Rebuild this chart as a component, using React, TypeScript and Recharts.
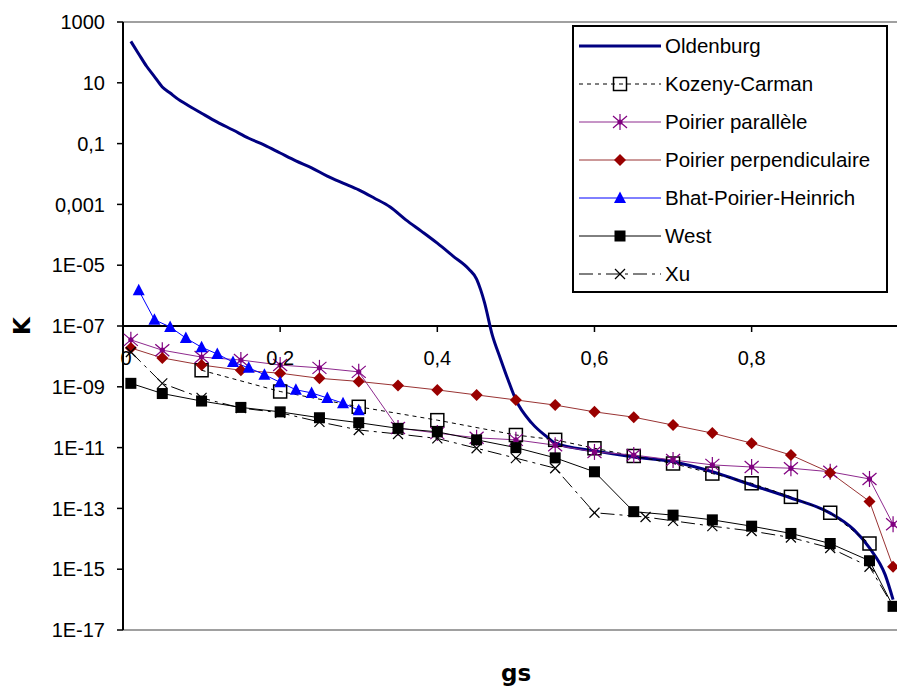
import type { FC } from 'react';
import { LineChart, Line, XAxis, YAxis, ReferenceLine, Legend, Label } from 'recharts';

// permeability K versus solid fraction gs, one array pair per model
const gsOldenburg = [0.01, 0.02, 0.03, 0.04, 0.05, 0.06, 0.07, 0.08, 0.1, 0.12, 0.14, 0.16, 0.18, 0.2, 0.22, 0.24, 0.26, 0.28, 0.3, 0.32, 0.34, 0.36, 0.38, 0.4, 0.42, 0.44, 0.45, 0.455, 0.46, 0.47, 0.48, 0.49, 0.5, 0.52, 0.54, 0.55, 0.6, 0.65, 0.7, 0.75, 0.8, 0.85, 0.9, 0.93, 0.95, 0.97, 0.98];
const kOldenburg = [230, 89, 35, 16, 7.3, 4.6, 2.9, 2.0, 1.0, 0.51, 0.28, 0.15, 0.089, 0.049, 0.027, 0.016, 0.0085, 0.005, 0.003, 0.0016, 8.2e-4, 3.1e-4, 1.3e-4, 5.3e-5, 2e-5, 7.5e-6, 3.5e-6, 1.6e-6, 6e-7, 5e-8, 8.9e-9, 1.7e-9, 3.7e-10, 6.5e-11, 2.2e-11, 1.4e-11, 7.8e-12, 4.9e-12, 3.4e-12, 1.6e-12, 5.9e-13, 2.2e-13, 7e-14, 2e-14, 5e-15, 6.5e-16, 1e-16];

const gsKozeny = [0.1, 0.2, 0.3, 0.4, 0.5, 0.55, 0.6, 0.65, 0.7, 0.75, 0.8, 0.85, 0.9, 0.95];
const kKozeny = [3.5e-9, 7e-10, 2.2e-10, 8e-11, 2.6e-11, 1.8e-11, 9.5e-12, 5.3e-12, 3e-12, 1.4e-12, 6.7e-13, 2.4e-13, 7.2e-14, 7e-15];

const gsMain = [0.01, 0.05, 0.1, 0.15, 0.2, 0.25, 0.3, 0.35, 0.4, 0.45, 0.5, 0.55, 0.6, 0.65, 0.7, 0.75, 0.8, 0.85, 0.9, 0.95, 0.98];
const kParallele = [3.5e-8, 1.6e-8, 9.5e-9, 7.6e-9, 5.2e-9, 4.2e-9, 3.1e-9, 4.4e-11, 3e-11, 2.1e-11, 1.8e-11, 1.2e-11, 7.2e-12, 5.7e-12, 3.9e-12, 2.7e-12, 2.3e-12, 2.1e-12, 1.6e-12, 9.3e-13, 3e-14];
const kPerpendiculaire = [1.9e-8, 8.9e-9, 5.2e-9, 3.5e-9, 2.8e-9, 1.9e-9, 1.5e-9, 1.1e-9, 7.9e-10, 5.4e-10, 3.7e-10, 2.5e-10, 1.5e-10, 1e-10, 5.5e-11, 3e-11, 1.4e-11, 5.7e-12, 1.5e-12, 1.7e-13, 1.2e-15];
const kWest = [1.3e-9, 6e-10, 3.4e-10, 2.1e-10, 1.5e-10, 9.6e-11, 6.6e-11, 4.3e-11, 3.3e-11, 1.8e-11, 1.0e-11, 4.6e-12, 1.6e-12, 7.8e-14, 6e-14, 4.2e-14, 2.6e-14, 1.5e-14, 7e-15, 1.9e-15, 6e-17];

const gsBhat = [0.02, 0.04, 0.06, 0.08, 0.1, 0.12, 0.14, 0.16, 0.18, 0.2, 0.22, 0.24, 0.26, 0.28, 0.3];
const kBhat = [1.5e-6, 1.6e-7, 9.3e-8, 4e-8, 2e-8, 1.2e-8, 6.5e-9, 4.2e-9, 2.5e-9, 1.4e-9, 8e-10, 6.3e-10, 4.3e-10, 2.9e-10, 1.7e-10];

const gsXu = [0.01, 0.05, 0.1, 0.15, 0.2, 0.25, 0.3, 0.35, 0.4, 0.45, 0.5, 0.55, 0.6, 0.665, 0.7, 0.75, 0.8, 0.85, 0.9, 0.95, 0.98];
const kXu = [1.4e-8, 1.3e-9, 4.3e-10, 2e-10, 1.4e-10, 7e-11, 3.8e-11, 2.8e-11, 2e-11, 9.5e-12, 4.5e-12, 2.1e-12, 7.2e-14, 5.2e-14, 3.9e-14, 2.6e-14, 1.8e-14, 1.1e-14, 5e-15, 1.2e-15, 6e-17];

const yTicks = [1000, 10, 0.1, 0.001, 1e-5, 1e-7, 1e-9, 1e-11, 1e-13, 1e-15, 1e-17];
const yTickLabels = ['1000', '10', '0,1', '0,001', '1E-05', '1E-07', '1E-09', '1E-11', '1E-13', '1E-15', '1E-17'];
const xTicks = [0, 0.2, 0.4, 0.6, 0.8];
const xTickLabels = ['0', '0,2', '0,4', '0,6', '0,8'];

const FONT = '"Liberation Sans", Arial, sans-serif';
const W = 898;
const H = 689;
const TOP = 22;
const PLOT_H = 608;
const MID = TOP + PLOT_H / 2; // where K = 1E-07 sits (middle of 20 decades)

type MarkerKind = 'none' | 'hollowSquare' | 'square' | 'diamond' | 'triangle' | 'star' | 'cross';

interface SeriesDef {
    name: string;
    gs: number[];
    k: number[];
    color: string;
    width: number;
    dash?: string;
    marker: MarkerKind;
    markerColor: string;
    curve: 'monotone' | 'linear';
}

const SERIES: SeriesDef[] = [
    { name: 'Oldenburg', gs: gsOldenburg, k: kOldenburg, color: '#000080', width: 3, marker: 'none', markerColor: '#000080', curve: 'monotone' },
    { name: 'Kozeny-Carman', gs: gsKozeny, k: kKozeny, color: '#000', width: 1, dash: '4 4', marker: 'hollowSquare', markerColor: '#000', curve: 'linear' },
    { name: 'Poirier parallèle', gs: gsMain, k: kParallele, color: '#8E2A8E', width: 1, marker: 'star', markerColor: '#800080', curve: 'linear' },
    { name: 'Poirier perpendiculaire', gs: gsMain, k: kPerpendiculaire, color: '#993333', width: 1, marker: 'diamond', markerColor: '#990000', curve: 'linear' },
    { name: 'Bhat-Poirier-Heinrich', gs: gsBhat, k: kBhat, color: '#0000FF', width: 1, marker: 'triangle', markerColor: '#0000FF', curve: 'linear' },
    { name: 'West', gs: gsMain, k: kWest, color: '#000', width: 1, marker: 'square', markerColor: '#000', curve: 'linear' },
    { name: 'Xu', gs: gsXu, k: kXu, color: '#000', width: 1, dash: '14 5 3 5', marker: 'cross', markerColor: '#000', curve: 'linear' },
];

const Marker: FC<{ kind: MarkerKind; x: number; y: number; color: string }> = ({ kind, x, y, color }) => {
    switch (kind) {
        case 'hollowSquare':
            return <rect x={x - 6.5} y={y - 6.5} width={13} height={13} fill="none" stroke={color} strokeWidth={1.5} />;
        case 'square':
            return <rect x={x - 5.5} y={y - 5.5} width={11} height={11} fill={color} />;
        case 'diamond':
            return <polygon points={`${x},${y - 6} ${x + 6},${y} ${x},${y + 6} ${x - 6},${y}`} fill={color} />;
        case 'triangle':
            return <polygon points={`${x},${y - 6.5} ${x + 6},${y + 5} ${x - 6},${y + 5}`} fill={color} />;
        case 'star':
            return (
                <g stroke={color} strokeWidth={1.2}>
                    <line x1={x} y1={y - 8} x2={x} y2={y + 8} />
                    <line x1={x - 7} y1={y - 6} x2={x + 7} y2={y + 6} />
                    <line x1={x - 7} y1={y + 6} x2={x + 7} y2={y - 6} />
                    <circle cx={x} cy={y} r={2} fill={color} />
                </g>
            );
        case 'cross':
            return (
                <g stroke={color} strokeWidth={1.2}>
                    <line x1={x - 5} y1={y - 5} x2={x + 5} y2={y + 5} />
                    <line x1={x - 5} y1={y + 5} x2={x + 5} y2={y - 5} />
                </g>
            );
        default:
            return null;
    }
};

const XTick = (props: any) => {
    const { x, payload } = props;
    const i = xTicks.indexOf(payload.value);
    return (
        <g>
            {payload.value !== 0 && <line x1={x} y1={MID} x2={x} y2={MID + 6} stroke="#000" strokeWidth={1.5} />}
            <text x={payload.value === 0 ? x + 3 : x} y={MID + 39} textAnchor="middle" fontSize={20} fontFamily={FONT} fill="#000">
                {xTickLabels[i]}
            </text>
        </g>
    );
};

const LegendBox = () => (
    <div style={{ fontFamily: FONT, fontSize: 20.5, color: '#000' }}>
        {SERIES.map((s) => (
            <div key={s.name} style={{ display: 'flex', alignItems: 'center', height: 38 }}>
                <svg width={90} height={38} style={{ flex: 'none' }}>
                    <line x1={5} y1={19} x2={87} y2={19} stroke={s.color} strokeWidth={s.width} strokeDasharray={s.dash} />
                    <Marker kind={s.marker} x={46} y={19} color={s.markerColor} />
                </svg>
                <span style={{ marginLeft: 1, whiteSpace: 'nowrap' }}>{s.name}</span>
            </div>
        ))}
    </div>
);

export default function App() {
    return (
        <div style={{ position: 'fixed', left: 0, top: 0, width: W, height: H, overflow: 'hidden', background: '#fff' }}>
            <LineChart width={W} height={H} margin={{ top: TOP, right: 1, bottom: 29, left: 0 }}>
                <XAxis
                    type="number"
                    dataKey="gs"
                    domain={[0, 0.985]}
                    ticks={xTicks}
                    allowDataOverflow
                    height={30}
                    axisLine={{ stroke: '#808080', strokeWidth: 1.5 }}
                    tickLine={false}
                    tick={<XTick />}
                    interval={0}
                >
                    <Label
                        content={() => (
                            <text x={516} y={681} textAnchor="middle" fontFamily="'DejaVu Sans', Verdana, sans-serif" fontWeight="bold" fontSize={23} fill="#000">
                                gs
                            </text>
                        )}
                    />
                </XAxis>
                <YAxis
                    type="number"
                    dataKey="k"
                    scale="log"
                    domain={[1e-17, 1000]}
                    allowDataOverflow
                    ticks={yTicks}
                    interval={0}
                    width={123}
                    tickSize={6}
                    tickMargin={12}
                    tickFormatter={(v: number) => yTickLabels[yTicks.indexOf(v)] ?? ''}
                    tick={{ fill: '#000', fontSize: 20, fontFamily: FONT }}
                    axisLine={{ stroke: '#000', strokeWidth: 2 }}
                    tickLine={{ stroke: '#000', strokeWidth: 1.5 }}
                >
                    <Label
                        content={() => (
                            <text x={22} y={326} transform="rotate(-90 22 326)" textAnchor="middle" dominantBaseline="central" fontFamily="'DejaVu Sans', Verdana, sans-serif" fontWeight="bold" fontSize={23} fill="#000">
                                K
                            </text>
                        )}
                    />
                </YAxis>
                <ReferenceLine y={1000} stroke="#808080" strokeWidth={1.5} ifOverflow="visible" />
                <ReferenceLine y={1e-7} stroke="#000" strokeWidth={2} ifOverflow="visible" />
                {SERIES.map((s) => (
                    <Line
                        key={s.name}
                        name={s.name}
                        data={s.gs.map((g, i) => ({ gs: g, k: s.k[i] }))}
                        dataKey="k"
                        type={s.curve}
                        stroke={s.color}
                        strokeWidth={s.width}
                        strokeDasharray={s.dash}
                        dot={s.marker === 'none' ? false : (p: any) => <Marker key={`${s.name}-${p.index}`} kind={s.marker} x={p.cx} y={p.cy} color={s.markerColor} />}
                        activeDot={false}
                        isAnimationActive={false}
                    />
                ))}
                <Legend
                    layout="vertical"
                    align="center"
                    verticalAlign="middle"
                    content={<LegendBox />}
                    wrapperStyle={{ left: 572, top: 25, width: 316, height: 268, border: '2px solid #000', boxSizing: 'border-box', background: '#fff' }}
                />
            </LineChart>
        </div>
    );
}
